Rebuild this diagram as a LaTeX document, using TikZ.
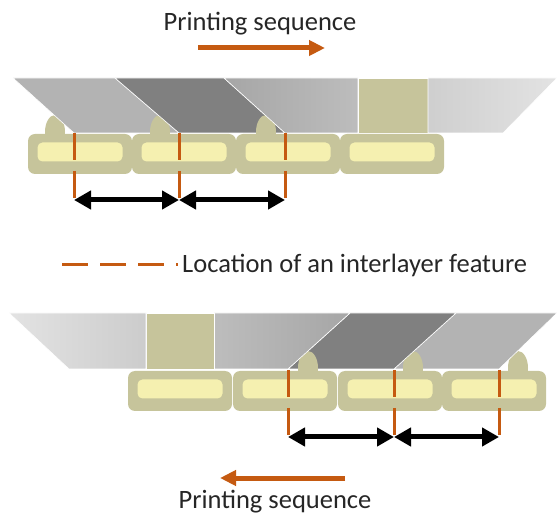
\documentclass[tikz,border=0pt]{standalone}
\usepackage{fontspec}
\setmainfont{Carlito}
\usetikzlibrary{arrows.meta}
\definecolor{beadkhaki}{RGB}{198,196,155}
\definecolor{beadcore}{RGB}{245,240,176}
\definecolor{featorange}{RGB}{197,90,17}
\definecolor{nozzledark}{RGB}{128,128,128}
\definecolor{nozzlelight}{RGB}{179,179,179}
\definecolor{textgray}{RGB}{38,38,38}

\begin{document}
\begin{tikzpicture}[x=1pt,y=-1pt,
  bead/.style={rectangle, fill=beadkhaki, minimum width=104pt, minimum height=40pt, rounded corners=7pt, inner sep=0pt},
  core/.style={rectangle, fill=beadcore, minimum width=85pt, minimum height=19pt, rounded corners=5pt, inner sep=0pt},
  blob/.style={fill=beadkhaki, x radius=10pt, y radius=17pt},
  panel/.style={draw=white, line width=0.6pt},
  feature/.style={featorange, line width=3pt, dash pattern=on 27pt off 11pt},
  spacing/.style={line width=5pt, {Triangle[length=17pt,width=18pt]}-{Triangle[length=17pt,width=18pt]}},
  seq/.style={featorange, line width=5pt, -{Triangle[length=16pt,width=15pt]}},
  label/.style={font=\fontsize{26.5}{30}\selectfont, text=textgray, inner sep=0pt}]

\useasboundingbox (0,0) rectangle (557,518);

% Upper pass, nozzle moving right
\node[label, anchor=base] (toptitle) at (260,31) {Printing sequence};
\coordinate (topseqA) at (198,48);
\coordinate (topseqB) at (325,48);
\draw[seq] (topseqA) -- (topseqB);

% nozzle, each blob of squeezed-out material sits behind the next nozzle face
\fill[blob] (55,132) ellipse [];
\path[panel, fill=nozzlelight] (13,78) -- (115,78) -- (179,133) -- (74,133) -- cycle;
\fill[blob] (160,132) ellipse [];
\path[panel, fill=nozzledark] (115,78) -- (224,78) -- (285,133) -- (179,133) -- cycle;
\fill[blob] (266,132) ellipse [];
\path[panel, left color=black!35, right color=black!26] (224,78) -- (358,78) -- (358,133) -- (285,133) -- cycle;
\path[panel, fill=beadkhaki] (358,78) rectangle (428,133);
\path[panel, left color=black!19, right color=black!11] (428,78) -- (557,78) -- (503,133) -- (428,133) -- cycle;

\foreach \i/\x in {1/80,2/184,3/288,4/392} {
    \node[bead] (topbead\i) at (\x,154) {};
    \node[core] (topcore\i) at ([yshift=2pt]topbead\i.center) {};
}

\foreach \i/\x in {1/74,2/179,3/285} {
    \coordinate (topfeat\i) at (\x,133);
    \coordinate (topend\i) at (\x,200);
    \draw[feature] (topfeat\i) -- (topend\i);
}
\draw[spacing] (topend1) -- (topend2);
\draw[spacing] (topend2) -- (topend3);

% Legend
\coordinate (legstart) at (62,265);
\node[label, anchor=base west] (legend) at (182,273) {Location of an interlayer feature};
\draw[feature, dash pattern=on 26pt off 12pt] (legstart) -- (178,265);

% Lower pass, nozzle moving left
\fill[blob] (518,368) ellipse [];
\path[panel, fill=nozzlelight] (456,313) -- (557,313) -- (499,369) -- (394,369) -- cycle;
\fill[blob] (413,368) ellipse [];
\path[panel, fill=nozzledark] (350,313) -- (456,313) -- (394,369) -- (288,369) -- cycle;
\fill[blob] (308,368) ellipse [];
\path[panel, left color=black!26, right color=black!35] (214,313) -- (350,313) -- (288,369) -- (214,369) -- cycle;
\path[panel, fill=beadkhaki] (146,313) rectangle (214,369);
\path[panel, left color=black!11, right color=black!20] (9,313) -- (146,313) -- (146,369) -- (69,369) -- cycle;

\foreach \i/\x in {1/180,2/285,3/390,4/494} {
    \node[bead] (botbead\i) at (\x,391) {};
    \node[core] (botcore\i) at ([yshift=2pt]botbead\i.center) {};
}

\foreach \i/\x in {1/288,2/394,3/499} {
    \coordinate (botfeat\i) at (\x,370);
    \coordinate (botend\i) at (\x,437);
    \draw[feature] (botfeat\i) -- (botend\i);
}
\draw[spacing] (botend1) -- (botend2);
\draw[spacing] (botend2) -- (botend3);

\coordinate (botseqA) at (345,478);
\coordinate (botseqB) at (220,478);
\draw[seq] (botseqA) -- (botseqB);
\node[label, anchor=base] (bottitle) at (275,508) {Printing sequence};
\end{tikzpicture}
\end{document}
